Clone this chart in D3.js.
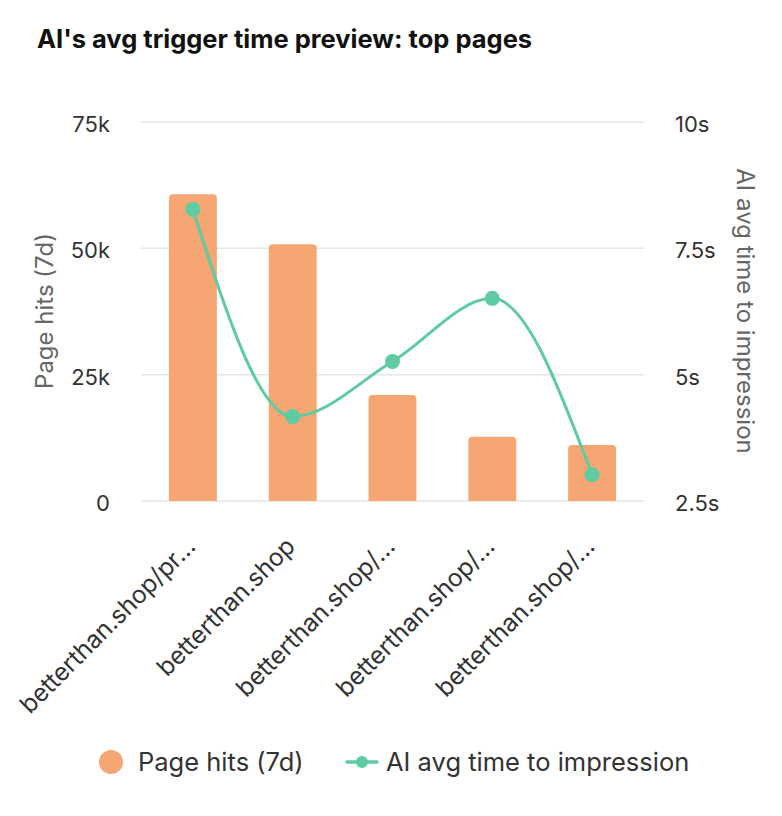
<!DOCTYPE html>
<html>
<head>
<meta charset="utf-8">
<script src="https://cdn.jsdelivr.net/npm/d3@7"></script>
<style>
  html, body { margin: 0; padding: 0; background: #fff; }
  svg { display: block; font-family: Inter, "Noto Sans", sans-serif; }
</style>
</head>
<body>
<div id="chart"></div>
<script>
// ── Data ──────────────────────────────────────────────────────────────────────
const pageLabels = ['betterthan.shop/pr…', 'betterthan.shop', 'betterthan.shop/…', 'betterthan.shop/…', 'betterthan.shop/…'];
const pageHits = [60700, 50800, 21000, 12700, 11100];
const avgTime = [8.27, 4.17, 5.26, 6.51, 3.02];
const hitTicks = [0, 25000, 50000, 75000];
const timeTicks = [2.5, 5, 7.5, 10];

const ORANGE = '#f5a673';
const GREEN = '#5ecba2';

// ── SVG setup ─────────────────────────────────────────────────────────────────
const W = 782, H = 816;
const svg = d3.select('#chart').append('svg')
  .attr('width', W)
  .attr('height', H);

svg.append('text')
  .attr('x', 37).attr('y', 48)
  .attr('font-size', 25.5).attr('font-weight', 700)
  .attr('fill', '#111')
  .text("AI's avg trigger time preview: top pages");

// ── Scales ────────────────────────────────────────────────────────────────────
const plot = { left: 141, right: 644, top: 122, bottom: 501 };

const x = d3.scaleBand()
  .domain(d3.range(pageLabels.length))
  .range([plot.left, plot.right])
  .paddingInner(0.52)
  .paddingOuter(0.28);

const yHits = d3.scaleLinear().domain([0, 75000]).range([plot.bottom, plot.top]);
const yTime = d3.scaleLinear().domain([2.5, 10]).range([plot.bottom, plot.top]);

// gridlines
svg.append('g').selectAll('line')
  .data(hitTicks)
  .join('line')
  .attr('x1', plot.left).attr('x2', plot.right)
  .attr('y1', d => yHits(d)).attr('y2', d => yHits(d))
  .attr('stroke', '#e6e6e6')
  .attr('stroke-width', 1.5);

// left ticks
svg.append('g').selectAll('text')
  .data(hitTicks)
  .join('text')
  .attr('x', 110).attr('y', d => yHits(d) + 10)
  .attr('text-anchor', 'end')
  .attr('font-size', 22).attr('fill', '#333')
  .text(d => d === 0 ? '0' : d3.format('~s')(d));

// right ticks
svg.append('g').selectAll('text')
  .data(timeTicks)
  .join('text')
  .attr('x', 675).attr('y', d => yTime(d) + 10)
  .attr('text-anchor', 'start')
  .attr('font-size', 22).attr('fill', '#333')
  .text(d => d + 's');

// axis titles
svg.append('text')
  .attr('transform', 'translate(53,311) rotate(-90)')
  .attr('text-anchor', 'middle')
  .attr('font-size', 24).attr('fill', '#666')
  .text('Page hits (7d)');

svg.append('text')
  .attr('transform', 'translate(737,311) rotate(90)')
  .attr('text-anchor', 'middle')
  .attr('font-size', 24).attr('fill', '#666')
  .text('AI avg time to impression');

// ── Bars ──────────────────────────────────────────────────────────────────────
function topRoundedBar(x0, y0, w, h, r) {
  r = Math.min(r, h / 2, w / 2);
  return `M${x0},${y0 + h}V${y0 + r}Q${x0},${y0} ${x0 + r},${y0}H${x0 + w - r}Q${x0 + w},${y0} ${x0 + w},${y0 + r}V${y0 + h}Z`;
}

svg.append('g').selectAll('path')
  .data(pageHits)
  .join('path')
  .attr('d', (d, i) => topRoundedBar(x(i), yHits(d), x.bandwidth(), yHits(0) - yHits(d), 4))
  .attr('fill', ORANGE);

// ── Line ──────────────────────────────────────────────────────────────────────
const line = d3.line()
  .x((d, i) => x(i) + x.bandwidth() / 2)
  .y(d => yTime(d))
  .curve(d3.curveMonotoneX);

svg.append('path')
  .datum(avgTime)
  .attr('d', line)
  .attr('fill', 'none')
  .attr('stroke', GREEN)
  .attr('stroke-width', 3);

svg.append('g').selectAll('circle')
  .data(avgTime)
  .join('circle')
  .attr('cx', (d, i) => x(i) + x.bandwidth() / 2)
  .attr('cy', d => yTime(d))
  .attr('r', 7.5)
  .attr('fill', GREEN);

// ── X labels ──────────────────────────────────────────────────────────────────
svg.append('g').selectAll('text')
  .data(pageLabels)
  .join('text')
  .attr('transform', (d, i) => `translate(${x(i) + x.bandwidth() / 2 + 4},548) rotate(-45)`)
  .attr('text-anchor', 'end')
  .attr('font-size', 24.5).attr('fill', '#333')
  .text(d => d);

// ── Legend ────────────────────────────────────────────────────────────────────
const legend = svg.append('g').attr('font-size', 25.5).attr('fill', '#333');
legend.append('circle').attr('cx', 111).attr('cy', 762).attr('r', 12).attr('fill', ORANGE);
legend.append('text').attr('x', 138).attr('y', 771).text('Page hits (7d)');
legend.append('line')
  .attr('x1', 347).attr('x2', 377).attr('y1', 762).attr('y2', 762)
  .attr('stroke', GREEN).attr('stroke-width', 3.5).attr('stroke-linecap', 'round');
legend.append('circle').attr('cx', 362).attr('cy', 762).attr('r', 6).attr('fill', GREEN);
legend.append('text').attr('x', 386).attr('y', 771).text('AI avg time to impression');
</script>
</body>
</html>
